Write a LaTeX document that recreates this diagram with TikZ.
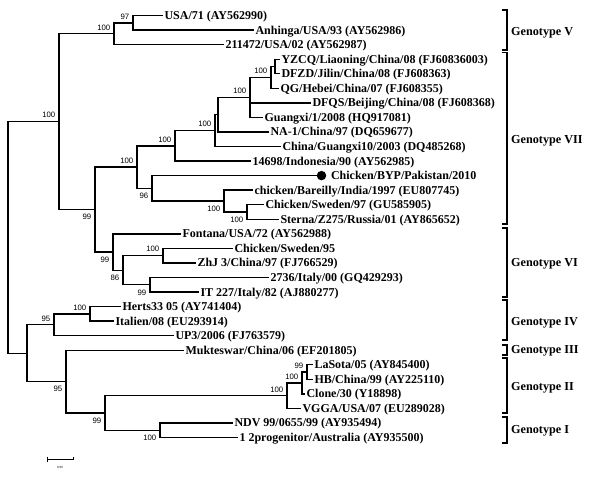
\documentclass[tikz,border=0pt]{standalone}
\usepackage{fontspec}
\setmainfont{Liberation Serif}
\newfontfamily\bsfont{Liberation Sans}
\begin{document}
\begin{tikzpicture}[x=1pt,y=-1pt,
  edge/.style={line width=1.4pt,line cap=rect},
  leaf/.style={anchor=west,inner xsep=2.5pt,inner ysep=0pt,outer sep=0pt,
    font=\fontsize{12}{13}\selectfont\bfseries,text height=8.1pt,text depth=0pt},
  bsup/.style={anchor=south east,inner sep=0pt,xshift=-3.5pt,yshift=3.5pt,
    font=\fontsize{7.8}{8}\bsfont,text height=5.6pt,text depth=0pt},
  bsdown/.style={anchor=north east,inner sep=0pt,xshift=-3.5pt,yshift=-4.5pt,
    font=\fontsize{7.8}{8}\bsfont,text height=5.6pt,text depth=0pt},
  dotmark/.style={circle,fill=black,inner sep=0pt,minimum size=9.5pt},
  bracket/.style={line width=1.8pt},
  gtext/.style={anchor=west,inner sep=0pt,font=\fontsize{12.2}{13}\selectfont\bfseries,
    text height=8.3pt,text depth=0pt}]
\useasboundingbox (0,0) rectangle (600,480);
% internal nodes
\coordinate (R) at (8,237.4);
\coordinate (p) at (59,121.6);
\coordinate (u) at (27,353.2);
\coordinate (r) at (114,33.7);
\coordinate (q) at (133,22.8);
\coordinate (o) at (95,209.5);
\coordinate (j) at (137,167);
\coordinate (f) at (175,145.8);
\coordinate (e) at (215,130.6);
\coordinate (d) at (218,114.7);
\coordinate (c) at (250,97.4);
\coordinate (b) at (271,77.4);
\coordinate (a) at (275,66.5);
\coordinate (i) at (152,188.3);
\coordinate (h) at (224,201);
\coordinate (g) at (247,212);
\coordinate (n) at (113,252);
\coordinate (m) at (123,270.2);
\coordinate (k) at (163,255.6);
\coordinate (l) at (150,284.7);
\coordinate (t) at (54,324.7);
\coordinate (s) at (90,313.8);
\coordinate (v) at (66,381.6);
\coordinate (w) at (105,413);
\coordinate (x2) at (287,395.7);
\coordinate (y2) at (302,382.9);
\coordinate (z) at (307,372);
\coordinate (gI) at (160,430.2);
% leaves
\node[leaf] (L0) at (162,15.5) {USA/71 (AY562990)};
\node[leaf] (L1) at (253,30.1) {Anhinga/USA/93 (AY562986)};
\node[leaf] (L2) at (223,44.6) {211472/USA/02 (AY562987)};
\node[leaf] (L3) at (279,59.2) {YZCQ/Liaoning/China/08 (FJ60836003)};
\node[leaf] (L4) at (279,73.7) {DFZD/Jilin/China/08 (FJ608363)};
\node[leaf] (L5) at (278,88.3) {QG/Hebei/China/07 (FJ608355)};
\node[leaf] (L6) at (310,102.8) {DFQS/Beijing/China/08 (FJ608368)};
\node[leaf] (L7) at (262,117.4) {Guangxi/1/2008 (HQ917081)};
\node[leaf] (L8) at (268,131.9) {NA-1/China/97 (DQ659677)};
\node[leaf] (L9) at (280,146.5) {China/Guangxi10/2003 (DQ485268)};
\node[leaf] (L10) at (250,161) {14698/Indonesia/90 (AY562985)};
\node[dotmark] (D11) at (321.5,175.6) {};
\node[leaf] (L11) at (328.5,175.6) {Chicken/BYP/Pakistan/2010};
\node[leaf] (L12) at (252,190.1) {chicken/Bareilly/India/1997 (EU807745)};
\node[leaf] (L13) at (263,204.7) {Chicken/Sweden/97 (GU585905)};
\node[leaf] (L14) at (278,219.2) {Sterna/Z275/Russia/01 (AY865652)};
\node[leaf] (L15) at (180,233.8) {Fontana/USA/72 (AY562988)};
\node[leaf] (L16) at (232,248.3) {Chicken/Sweden/95};
\node[leaf] (L17) at (195,262.9) {ZhJ 3/China/97 (FJ766529)};
\node[leaf] (L18) at (268,277.4) {2736/Italy/00 (GQ429293)};
\node[leaf] (L19) at (198,292) {IT 227/Italy/82 (AJ880277)};
\node[leaf] (L20) at (120,306.5) {Herts33 05 (AY741404)};
\node[leaf] (L21) at (113,321.1) {Italien/08 (EU293914)};
\node[leaf] (L22) at (173,335.6) {UP3/2006 (FJ763579)};
\node[leaf] (L23) at (183,350.2) {Mukteswar/China/06 (EF201805)};
\node[leaf] (L24) at (312,364.7) {LaSota/05 (AY845400)};
\node[leaf] (L25) at (312,379.3) {HB/China/99 (AY225110)};
\node[leaf] (L26) at (304,393.8) {Clone/30 (Y18898)};
\node[leaf] (L27) at (300,408.4) {VGGA/USA/07 (EU289028)};
\node[leaf] (L28) at (232,422.9) {NDV 99/0655/99 (AY935494)};
\node[leaf] (L29) at (237,437.5) {1 2progenitor/Australia (AY935500)};
% branches
\draw[edge] (R) |- (p);  \draw[edge] (R) |- (u);
\draw[edge] (p) |- (r);  \draw[edge] (p) |- (o);
\draw[edge] (r) |- (q);  \draw[edge] (r) |- (L2.west);
\draw[edge] (q) |- (L0.west); \draw[edge] (q) |- (L1.west);
\draw[edge] (o) |- (j);  \draw[edge] (o) |- (n);
\draw[edge] (j) |- (f);  \draw[edge] (j) |- (i);
\draw[edge] (f) |- (e);  \draw[edge] (f) |- (L10.west);
\draw[edge] (e) |- (d);  \draw[edge] (e) |- (L9.west);
\draw[edge] (d) |- (c);  \draw[edge] (d) |- (L8.west);
\draw[edge] (c) |- (b);  \draw[edge] (c) |- (L6.west); \draw[edge] (c) |- (L7.west);
\draw[edge] (b) |- (a);  \draw[edge] (b) |- (L5.west);
\draw[edge] (a) |- (L3.west); \draw[edge] (a) |- (L4.west);
\draw[edge] (i) |- (D11.west); \draw[edge] (i) |- (h);
\draw[edge] (h) |- (L12.west); \draw[edge] (h) |- (g);
\draw[edge] (g) |- (L13.west); \draw[edge] (g) |- (L14.west);
\draw[edge] (n) |- (L15.west); \draw[edge] (n) |- (m);
\draw[edge] (m) |- (k);  \draw[edge] (m) |- (l);
\draw[edge] (k) |- (L16.west); \draw[edge] (k) |- (L17.west);
\draw[edge] (l) |- (L18.west); \draw[edge] (l) |- (L19.west);
\draw[edge] (u) |- (t);  \draw[edge] (u) |- (v);
\draw[edge] (t) |- (s);  \draw[edge] (t) |- (L22.west);
\draw[edge] (s) |- (L20.west); \draw[edge] (s) |- (L21.west);
\draw[edge] (v) |- (L23.west); \draw[edge] (v) |- (w);
\draw[edge] (w) |- (x2); \draw[edge] (w) |- (gI);
\draw[edge] (x2) |- (y2); \draw[edge] (x2) |- (L27.west);
\draw[edge] (y2) |- (z); \draw[edge] (y2) |- (L26.west);
\draw[edge] (z) |- (L24.west); \draw[edge] (z) |- (L25.west);
\draw[edge] (gI) |- (L28.west); \draw[edge] (gI) |- (L29.west);
% bootstrap values
\node[bsup] (bq) at (q) {97};
\node[bsup] (br) at (r) {100};
\node[bsup] (bb) at (b) {100};
\node[bsup] (bc) at (c) {100};
\node[bsup] (be) at (e) {100};
\node[bsup] (bf) at (f) {100};
\node[bsup] (bj) at (j) {100};
\node[bsdown] (bi) at (i) {96};
\node[bsdown] (bh) at (h) {100};
\node[bsdown] (bg) at (g) {100};
\node[bsdown] (bo) at (o) {99};
\node[bsup] (bp) at (p) {100};
\node[bsdown] (bn) at (n) {99};
\node[bsdown] (bm) at (m) {86};
\node[bsup] (bk) at (k) {100};
\node[bsdown] (bl) at (l) {99};
\node[bsup] (bs) at (s) {100};
\node[bsup] (bt) at (t) {95};
\node[bsdown] (bv) at (v) {95};
\node[bsdown] (bw) at (w) {99};
\node[bsup] (bx) at (x2) {100};
\node[bsup] (by) at (y2) {100};
\node[bsup] (bz) at (z) {99};
\node[bsdown] (bI) at (gI) {100};
% genotype brackets
\draw[bracket] (502,10) -- (507,10) -- (507,50) -- (502,50);
\node[gtext] (G5) at (511,31) {Genotype V};
\draw[bracket] (502,52.5) -- (507,52.5) -- (507,224) -- (502,224);
\node[gtext] (G7) at (511,139) {Genotype VII};
\draw[bracket] (502,228) -- (507,228) -- (507,297) -- (502,297);
\node[gtext] (G6) at (511,262) {Genotype VI};
\draw[bracket] (502,300) -- (507,300) -- (507,340) -- (502,340);
\node[gtext] (G4) at (511,321) {Genotype IV};
\draw[bracket] (502,345) -- (507,345) -- (507,355) -- (502,355);
\node[gtext] (G3) at (511,349) {Genotype III};
\draw[bracket] (502,358) -- (507,358) -- (507,413) -- (502,413);
\node[gtext] (G2) at (511,386) {Genotype II};
\draw[bracket] (502,417) -- (507,417) -- (507,443) -- (502,443);
\node[gtext] (G1) at (511,429) {Genotype I};
% scale bar
\coordinate (sb1) at (47,459);
\coordinate (sb2) at (73,459);
\draw[line width=0.8pt] (sb1) -- (sb2);
\draw[line width=0.8pt] ([yshift=2.5pt]sb1) -- ([yshift=-2.5pt]sb1);
\draw[line width=0.8pt] ([yshift=2pt]sb2) -- ([yshift=-1pt]sb2);
\node[inner sep=0pt,font=\fontsize{3}{3}\bsfont] (sbt) at (60,467) {0.05};
\end{tikzpicture}
\end{document}
